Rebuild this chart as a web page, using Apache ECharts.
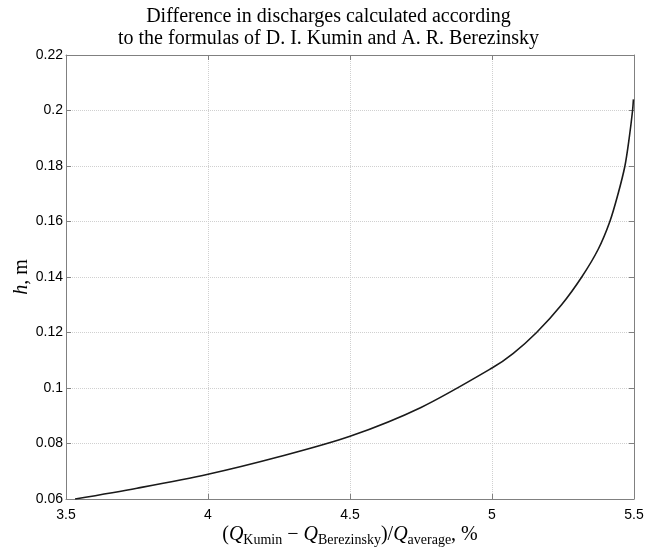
<!DOCTYPE html>
<html>
<head>
<meta charset="utf-8">
<script src="https://cdn.jsdelivr.net/npm/echarts@6/dist/echarts.min.js"></script>
<style>
  html, body { margin: 0; padding: 0; background: #fff; }
  #chart { width: 657px; height: 552px; }
</style>
</head>
<body>
<div id="chart"></div>
<script>
// Relative discharge difference, % (x) and depth h, m (y)
const diffPercent = [3.532, 3.75, 4.0, 4.25, 4.5, 4.75, 5.0, 5.075, 5.157, 5.245, 5.316, 5.374, 5.415, 5.444, 5.468, 5.483, 5.495, 5.498];
const depthM      = [0.060, 0.0639, 0.0689, 0.0752, 0.0826, 0.0930, 0.1072, 0.1125, 0.12, 0.13, 0.14, 0.15, 0.16, 0.17, 0.18, 0.19, 0.20, 0.204];

const xTicks = { min: 3.5, max: 5.5, step: 0.5 };
const yTicks = { min: 0.06, max: 0.22, step: 0.02 };

const titleLines = [
  'Difference in discharges calculated according',
  'to the formulas of D. I. Kumin and A. R. Berezinsky'
];

const serif = '"Liberation Serif", "DejaVu Serif", serif';
const sans = '"Liberation Sans", Arial, sans-serif';

const chart = echarts.init(document.getElementById('chart'), null, { renderer: 'canvas' });

const gridColor = '#d0d0d0';
const frameColor = '#808080';

// Top and right frame edges, ticks pointing inward, no labels
function frameAxis(extra) {
  return Object.assign({
    axisLine: { show: true, onZero: false, lineStyle: { color: frameColor, width: 1 } },
    axisTick: { show: true, inside: true, length: 5, lineStyle: { color: frameColor } },
    splitLine: { show: false },
    axisLabel: { show: false }
  }, extra);
}

chart.setOption({
  backgroundColor: '#ffffff',
  animation: false,
  title: {
    text: titleLines.join('\n'),
    left: 'center',
    top: 1,
    textStyle: {
      fontFamily: serif,
      fontSize: 20,
      fontWeight: 'normal',
      color: '#000',
      lineHeight: 22
    }
  },
  grid: { left: 66, right: 23, top: 55, bottom: 48 },
  xAxis: [
    {
      type: 'value',
      min: xTicks.min, max: xTicks.max, interval: xTicks.step,
      position: 'bottom',
      axisLine: { show: true, onZero: false, lineStyle: { color: frameColor, width: 1 } },
      axisTick: { show: true, inside: true, length: 5, lineStyle: { color: frameColor } },
      axisLabel: { color: '#000', fontFamily: sans, fontSize: 14, margin: 9 },
      splitLine: { show: true, lineStyle: { color: gridColor, type: [1, 1], width: 1 } },
      name: '{p|(}{q|Q}{s|Kumin}{p| − }{q|Q}{s|Berezinsky}{p|)/}{q|Q}{s|average}{p|, %}',
      nameLocation: 'middle',
      nameGap: 24,
      nameMoveOverlap: false,
      nameTextStyle: {
        rich: {
          p: { fontFamily: serif, fontSize: 20, color: '#000', lineHeight: 24, verticalAlign: 'middle' },
          q: { fontFamily: serif, fontSize: 20, fontStyle: 'italic', color: '#000', lineHeight: 24, verticalAlign: 'middle' },
          s: { fontFamily: serif, fontSize: 14, color: '#000', lineHeight: 14, verticalAlign: 'bottom' }
        }
      }
    },
    frameAxis({
      type: 'value',
      min: xTicks.min, max: xTicks.max, interval: xTicks.step,
      position: 'top'
    })
  ],
  yAxis: [
    {
      type: 'value',
      min: yTicks.min, max: yTicks.max, interval: yTicks.step,
      position: 'left',
      axisLine: { show: true, onZero: false, lineStyle: { color: frameColor, width: 1 } },
      axisTick: { show: true, inside: true, length: 5, lineStyle: { color: frameColor } },
      axisLabel: {
        color: '#000', fontFamily: sans, fontSize: 14, margin: 3,
        formatter: v => String(+v.toFixed(2))
      },
      splitLine: { show: true, lineStyle: { color: gridColor, type: [1, 1], width: 1 } },
      name: '{i|h}{n|, m}',
      nameLocation: 'middle',
      nameGap: 34,
      nameRotate: 90,
      nameMoveOverlap: false,
      nameTextStyle: {
        rich: {
          i: { fontFamily: serif, fontSize: 20, fontStyle: 'italic', color: '#000' },
          n: { fontFamily: serif, fontSize: 20, color: '#000' }
        }
      }
    },
    frameAxis({
      type: 'value',
      min: yTicks.min, max: yTicks.max, interval: yTicks.step,
      position: 'right'
    })
  ],
  series: [{
    type: 'line',
    xAxisIndex: 0,
    yAxisIndex: 0,
    data: diffPercent.map((x, i) => [x, depthM[i]]),
    smooth: 0.3,
    showSymbol: false,
    symbol: 'none',
    lineStyle: { color: '#1a1a1a', width: 1.6 }
  }]
});
</script>
</body>
</html>
